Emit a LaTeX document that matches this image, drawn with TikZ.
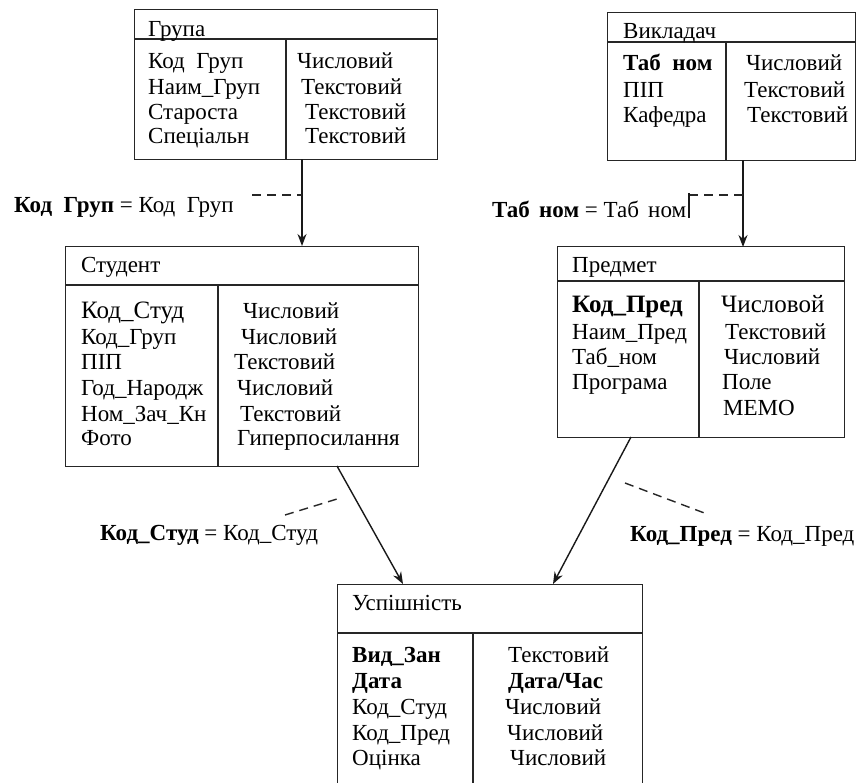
\documentclass[tikz,border=0pt]{standalone}
\usepackage{fontspec}
\setmainfont{Liberation Serif}
\usetikzlibrary{arrows.meta}
\newcommand{\fsz}{\fontsize{23}{27}\selectfont}
\newcommand{\fbig}{\fontsize{25}{29}\selectfont}
\tikzset{
  box/.style={draw=black!85, line width=1.4pt, rectangle, inner sep=0pt, anchor=north west},
  boxline/.style={draw=black!85, line width=1.4pt},
  txt/.style={anchor=base west, inner sep=0pt, font=\fsz, text=black},
  big/.style={anchor=base west, inner sep=0pt, font=\fbig, text=black},
  link/.style={draw=black!90, line width=1.4pt, -{Stealth[length=12pt,width=9pt]}},
  dashy/.style={draw=black!85, line width=1.4pt, dash pattern=on 9pt off 6pt}
}
\begin{document}
\begin{tikzpicture}[x=1pt,y=-1pt]
\useasboundingbox (0,0) rectangle (856,782);
\fill[white] (0,0) rectangle (856,782);

% ---------- Група ----------
\node[box, minimum width=303pt, minimum height=150pt] (grupa) at (134,9) {};
\draw[boxline] (134,39) -- (437,39);
\draw[boxline] (286,39) -- (286,159);
\node[txt] (g0) at (148,36) {Група};
\node[txt] (g1) at (148,68) {Код\enspace Груп};
\node[txt] (g2) at (148,94) {Наим\_Груп};
\node[txt] (g3) at (148,119) {Староста};
\node[txt] (g4) at (148,143) {Спеціальн};
\node[txt] (g5) at (297,68) {Числовий};
\node[txt] (g6) at (301,94) {Текстовий};
\node[txt] (g7) at (305,119) {Текстовий};
\node[txt] (g8) at (305,143) {Текстовий};

% ---------- Викладач ----------
\node[box, minimum width=248pt, minimum height=148pt] (vykl) at (607,12) {};
\draw[boxline] (607,42) -- (855,42);
\draw[boxline] (726,42) -- (726,160);
\node[txt] (v0) at (623,38) {Викладач};
\node[txt, font=\fsz\bfseries] (v1) at (623,70) {Таб\enspace ном};
\node[txt] (v2) at (623,97) {ПІП};
\node[txt] (v3) at (623,122) {Кафедра};
\node[txt] (v4) at (746,70) {Числовий};
\node[txt] (v5) at (744,97) {Текстовий};
\node[txt] (v6) at (747,122) {Текстовий};

% ---------- Студент ----------
\node[box, minimum width=353pt, minimum height=220pt] (stud) at (65,246) {};
\draw[boxline] (65,285) -- (418,285);
\draw[boxline] (218,285) -- (218,466);
\node[txt] (s0) at (81,272) {Студент};
\node[big] (s1) at (81,318) {Код\_Студ};
\node[txt] (s2) at (81,344) {Код\_Груп};
\node[txt] (s3) at (81,369) {ПІП};
\node[txt] (s4) at (81,395) {Год\_Народж};
\node[txt] (s5) at (81,421) {Ном\_Зач\_Кн};
\node[txt] (s6) at (81,445) {Фото};
\node[txt] (s7) at (243,318) {Числовий};
\node[txt] (s8) at (241,344) {Числовий};
\node[txt] (s9) at (234,369) {Текстовий};
\node[txt] (s10) at (237,395) {Числовий};
\node[txt] (s11) at (240,421) {Текстовий};
\node[txt] (s12) at (237,445) {Гиперпосилання};

% ---------- Предмет ----------
\node[box, minimum width=287pt, minimum height=191pt] (pred) at (557,246) {};
\draw[boxline] (557,281) -- (844,281);
\draw[boxline] (699,281) -- (699,437);
\node[txt] (p0) at (572,272) {Предмет};
\node[big, font=\fbig\bfseries] (p1) at (572,312) {Код\_Пред};
\node[txt] (p2) at (572,339) {Наим\_Пред};
\node[txt] (p3) at (572,364) {Таб\_ном};
\node[txt] (p4) at (572,389) {Програма};
\node[big] (p5) at (721,312) {Числовой};
\node[txt] (p6) at (725,339) {Текстовий};
\node[txt] (p7) at (724,364) {Числовий};
\node[txt] (p8) at (722,389) {Поле};
\node[txt] (p9) at (723,415) {МЕМО};

% ---------- Успішність ----------
\node[box, minimum width=305pt, minimum height=215pt] (usp) at (337,584) {};
\draw[boxline] (337,633) -- (642,633);
\draw[boxline] (473,633) -- (473,800);
\node[txt] (u0) at (352,610) {Успішність};
\node[txt, font=\fsz\bfseries] (u1) at (352,662) {Вид\_Зан};
\node[txt, font=\fsz\bfseries] (u2) at (352,688) {Дата};
\node[txt] (u3) at (352,714) {Код\_Студ};
\node[txt] (u4) at (352,740) {Код\_Пред};
\node[txt] (u5) at (352,765) {Оцінка};
\node[txt] (u6) at (508,662) {Текстовий};
\node[txt, font=\fsz\bfseries] (u7) at (508,688) {Дата/Час};
\node[txt] (u8) at (505,714) {Числовий};
\node[txt] (u9) at (507,740) {Числовий};
\node[txt] (u10) at (510,765) {Числовий};

% ---------- connector end points ----------
\coordinate (a1s) at (302,159);
\coordinate (a1e) at (302,246);
\coordinate (a2s) at (743,160);
\coordinate (a2e) at (743,247);
\coordinate (a3s) at (337,466);
\coordinate (a3e) at (403,584);
\coordinate (a4s) at (631,437);
\coordinate (a4e) at (553,584);

\draw[link] (a1s) -- (a1e);
\draw[link] (a2s) -- (a2e);
\draw[link] (a3s) -- (a3e);
\draw[link] (a4s) -- (a4e);

% ---------- labels ----------
\coordinate (d1a) at (252,195);
\coordinate (d1b) at (302,195);
\draw[dashy] (d1a) -- (d1b);
\node[txt] (l1) at (14,212) {\textbf{Код\enspace Груп} = Код\enspace Груп};

\coordinate (d2a) at (689,195);
\coordinate (d2b) at (743,195);
\draw[dashy] (d2a) -- (d2b);
\coordinate (c2a) at (689,193);
\coordinate (c2b) at (689,218);
\draw[draw=black!90, line width=1.2pt] (c2a) -- (c2b);
\node[txt] (l2) at (492,217) {\textbf{Таб\hspace{0.4em}ном} = Таб\hspace{0.4em}ном};

\coordinate (d3a) at (285,515);
\coordinate (d3b) at (337,499);
\draw[dashy] (d3a) -- (d3b);
\node[txt] (l3) at (100,540) {\textbf{Код\_Студ} = Код\_Студ};

\coordinate (d4a) at (625,483);
\coordinate (d4b) at (707,514);
\draw[dashy] (d4a) -- (d4b);
\node[txt] (l4) at (630,541) {\textbf{Код\_Пред} = Код\_Пред};
\end{tikzpicture}
\end{document}
